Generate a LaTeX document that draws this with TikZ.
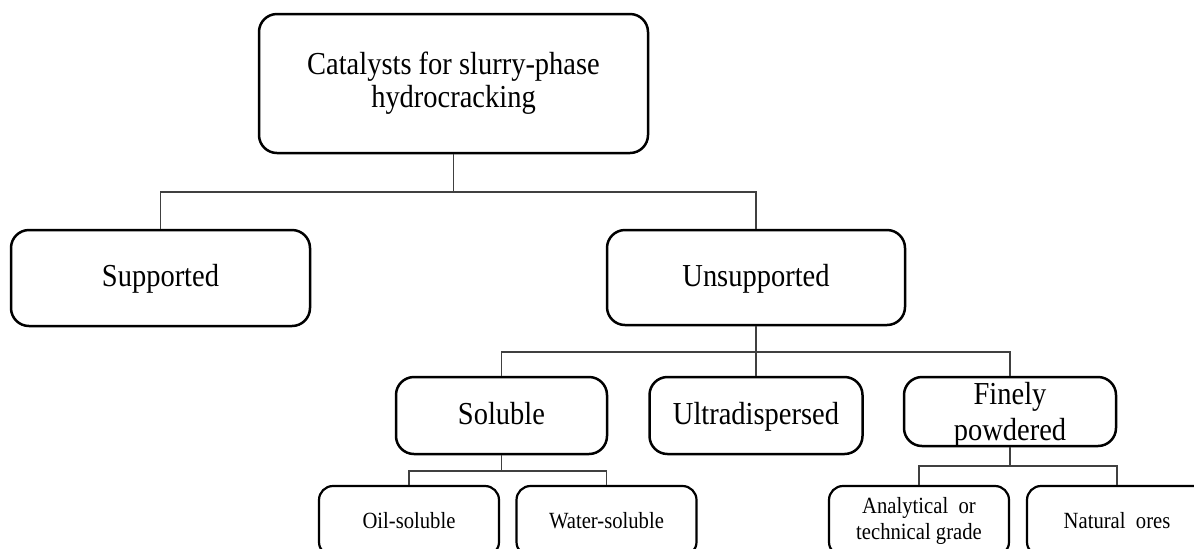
\documentclass[tikz,border=0pt]{standalone}
\usepackage{fontspec}
\setmainfont[FakeStretch=0.89]{Liberation Serif}

\begin{document}
\begin{tikzpicture}[x=0.5pt,y=-0.5pt,
        bigbox/.style={draw,line width=1.25pt,rounded corners=9pt,inner sep=0pt,align=center,
                font=\fontsize{16}{16.5}\selectfont},
        oneline/.style={text height=13pt,text depth=4.4pt},
        smallbox/.style={draw,line width=1.1pt,rounded corners=7pt,inner sep=0pt,align=center,
                minimum width=90pt,minimum height=35pt,font=\fontsize{11.6}{13}\selectfont},
        link/.style={draw=black!75,line width=0.75pt}]
                \useasboundingbox (0,0) rectangle (1194,548);
                \clip (0,0) rectangle (1194,548);

                % levels 0 and 1
                \node[bigbox,minimum width=194.5pt,minimum height=69.5pt] (cat) at (453.5,83.5) {Catalysts for slurry-phase\\hydrocracking};
                \node[bigbox,oneline,minimum width=149.5pt,minimum height=48pt] (sup) at (160.5,278) {Supported};
                \node[bigbox,oneline,minimum width=149pt,minimum height=47.5pt] (unsup) at (756,277.5) {Unsupported};

                % level 2
                \node[bigbox,oneline,minimum width=105.5pt,minimum height=38.5pt] (sol) at (501.5,415.5) {Soluble};
                \node[bigbox,oneline,minimum width=106.5pt,minimum height=38.5pt] (ultra) at (756,415.5) {Ultradispersed};
                \node[bigbox,minimum width=106pt,minimum height=34.5pt,text depth=0pt,font=\fontsize{16}{18}\selectfont] (fine) at (1010,411.5) {Finely\\powdered};

                % level 3
                \node[smallbox] (oil) at (409,521) {Oil-soluble};
                \node[smallbox] (water) at (606.5,521) {Water-soluble};
                \node[smallbox] (anal) at (919,521) {Analytical\ \ or\\technical grade};
                \node[smallbox] (ores) at (1117,521) {Natural\ \ ores};

                % connectors
                \coordinate (b1) at (453.5,192);
                \coordinate (b2) at (756,352);
                \coordinate (b3) at (501.5,471);
                \coordinate (b4) at (1010,466);
                \draw[link] (cat.south) -- (b1) -| (sup.north);
                \draw[link] (b1) -| (unsup.north);
                \draw[link] (unsup.south) -- (b2) -| (sol.north);
                \draw[link] (b2) -- (ultra.north);
                \draw[link] (b2) -| (fine.north);
                \draw[link] (sol.south) -- (b3) -| (oil.north);
                \draw[link] (b3) -| (water.north);
                \draw[link] (fine.south) -- (b4) -| (anal.north);
                \draw[link] (b4) -| (ores.north);

        \end{tikzpicture}
\end{document}
